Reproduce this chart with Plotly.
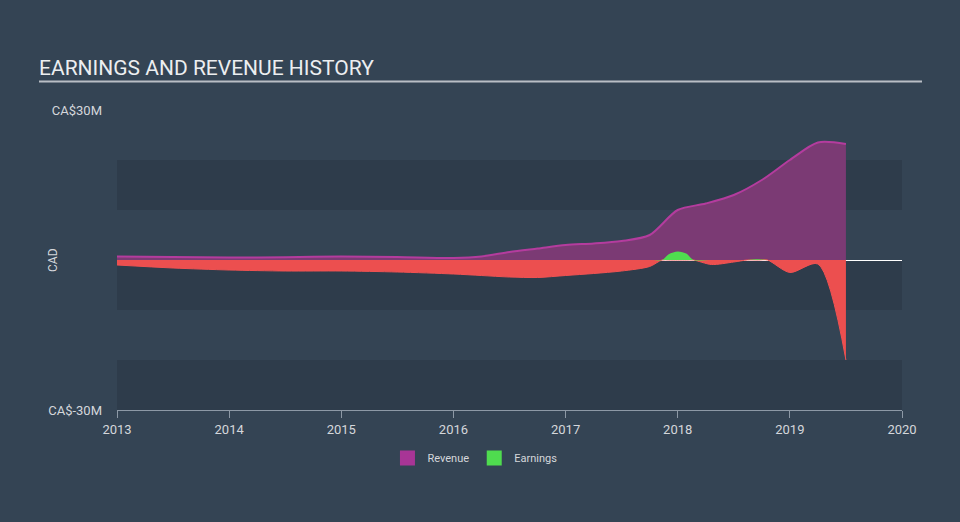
import plotly.graph_objects as go

# ---- data (CA$ millions) ----
rev_x = [2013.0, 2013.5, 2014.0, 2014.5, 2015.0, 2015.5, 2016.0, 2016.25, 2016.5, 2016.75,
         2017.0, 2017.25, 2017.5, 2017.75, 2018.0, 2018.25, 2018.5, 2018.75, 2019.0, 2019.25, 2019.5]
rev_y = [0.7, 0.6, 0.5, 0.55, 0.7, 0.6, 0.4, 0.7, 1.6, 2.3,
         3.0, 3.3, 3.8, 5.0, 10.0, 11.3, 13.0, 16.0, 20.0, 23.5, 23.2]

earn_x = [2013.0, 2013.5, 2014.0, 2014.5, 2015.0, 2015.5, 2016.0, 2016.25, 2016.5, 2016.75,
          2017.0, 2017.25, 2017.5, 2017.75, 2017.86, 2017.92, 2018.0, 2018.08, 2018.14, 2018.3, 2018.5,
          2018.62, 2018.72, 2018.8, 2019.0, 2019.25, 2019.5]
earn_y = [-1.0, -1.6, -2.0, -2.2, -2.2, -2.4, -2.8, -3.1, -3.4, -3.5,
          -3.1, -2.7, -2.2, -1.3, 0.0, 1.15, 1.7, 1.25, 0.0, -0.9, -0.4,
          0.0, 0.15, 0.0, -2.5, -0.8, -20.0]

year_ticks = [2013, 2014, 2015, 2016, 2017, 2018, 2019, 2020]
y_tickvals = [-30, 30]
y_ticktext = ["CA$-30M", "CA$30M"]

BG = "#344454"
BAND = "#2e3c4b"
TXT = "#d4d7db"

earn_neg = [min(v, 0) for v in earn_y]
earn_pos = [max(v, 0) for v in earn_y]

fig = go.Figure()

fig.add_trace(go.Scatter(
    x=rev_x, y=rev_y, mode="lines", line=dict(color="#b43c9e", width=2, shape="spline", smoothing=0.8),
    fill="tozeroy", fillcolor="#7b3a74", showlegend=False, hoverinfo="skip"))
fig.add_trace(go.Scatter(
    x=earn_x, y=earn_neg, mode="lines", line=dict(color="#f05252", width=1, shape="spline", smoothing=0.8),
    fill="tozeroy", fillcolor="#ec4f4f", showlegend=False, hoverinfo="skip"))
fig.add_trace(go.Scatter(
    x=earn_x, y=earn_pos, mode="lines", line=dict(color="rgba(0,0,0,0)", width=0, shape="spline", smoothing=0.8),
    fill="tozeroy", fillcolor="#4fdc4f", showlegend=False, hoverinfo="skip"))

# legend entries
fig.add_trace(go.Scatter(x=[None], y=[None], mode="markers", name="Revenue",
                         marker=dict(symbol="square", size=15, color="#a83596")))
fig.add_trace(go.Scatter(x=[None], y=[None], mode="markers", name="Earnings",
                         marker=dict(symbol="square", size=15, color="#4fdc4f")))

shapes = []
for y0, y1 in [(10, 20), (-10, 0), (-30, -20)]:
    shapes.append(dict(type="rect", xref="x", yref="y", x0=2013, x1=2020, y0=y0, y1=y1,
                       fillcolor=BAND, line=dict(width=0), layer="below"))
# title underline
shapes.append(dict(type="line", xref="paper", yref="paper", x0=(39 - 117) / 785, x1=(922 - 117) / 785,
                   y0=(410 - 81.5) / 300, y1=(410 - 81.5) / 300, line=dict(color="#b9bec5", width=2)))

fig.update_layout(
    width=960, height=522,
    paper_bgcolor=BG, plot_bgcolor=BG,
    margin=dict(l=117, r=58, t=110, b=112),
    font=dict(family="Roboto", color=TXT, size=12),
    title=dict(text="EARNINGS AND REVENUE HISTORY", xref="container", yref="container",
               x=39 / 960, xanchor="left", y=1 - 68 / 522, yanchor="middle",
               font=dict(family="Roboto", size=21, color="#eceef0")),
    shapes=shapes,
    showlegend=True,
    legend=dict(orientation="h", x=0.456, xanchor="center", y=-0.16, yanchor="middle",
                font=dict(size=11, color=TXT), bgcolor="rgba(0,0,0,0)", itemwidth=30),
    annotations=[dict(text="CAD", xref="paper", yref="paper", x=(53 - 117) / 785, y=0.5,
                      textangle=-90, showarrow=False, font=dict(size=12, color=TXT),
                      xanchor="center", yanchor="middle")],
    hovermode=False,
)

fig.update_xaxes(range=[2013, 2020], tickvals=year_ticks, ticktext=[str(t) for t in year_ticks],
                 showgrid=False, zeroline=False, showline=True, linecolor="#8d99a6", linewidth=1,
                 ticks="outside", ticklen=7, tickcolor="#8d99a6", tickwidth=1,
                 tickfont=dict(size=13, color=TXT))
fig.update_yaxes(range=[-30, 30], tickvals=y_tickvals, ticktext=y_ticktext,
                 showgrid=False, zeroline=True, zerolinecolor="#ffffff", zerolinewidth=1,
                 showline=False, ticks="", ticklabelstandoff=14,
                 tickfont=dict(size=13, color=TXT))

fig.write_html("out.html")
